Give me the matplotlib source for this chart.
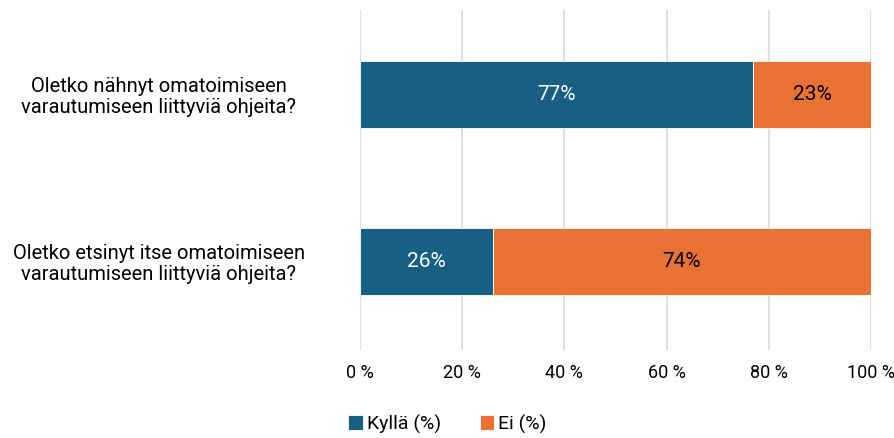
import matplotlib.pyplot as plt
from matplotlib.ticker import FuncFormatter

plt.rcParams['font.family'] = ['Roboto', 'DejaVu Sans']

questions = [
    "Oletko nähnyt omatoimiseen\nvarautumiseen liittyviä ohjeita?",
    "Oletko etsinyt itse omatoimiseen\nvarautumiseen liittyviä ohjeita?",
]
kylla = [77, 26]
ei = [23, 74]
series_names = ["Kyllä (%)", "Ei (%)"]

blue = "#176083"
orange = "#EA7134"

fig = plt.figure(figsize=(8.95, 4.38), dpi=100)
ax = fig.add_axes([360 / 895, 88 / 438, 511 / 895, 340 / 438])

ypos = [0, 1]
b1 = ax.barh(ypos, kylla, height=0.4, color=blue, edgecolor="white", linewidth=0.6, label=series_names[0])
b2 = ax.barh(ypos, ei, left=kylla, height=0.4, color=orange, edgecolor="white", linewidth=0.6, label=series_names[1])

ax.bar_label(b1, labels=[f"{v}%" for v in kylla], label_type="center", color="white", fontsize=15)
ax.bar_label(b2, labels=[f"{v}%" for v in ei], label_type="center", color="black", fontsize=15)

ax.set_xlim(0, 100)
ax.set_ylim(1.53, -0.506)
ax.set_xticks(range(0, 101, 20))
ax.xaxis.set_major_formatter(FuncFormatter(lambda x, p: f"{int(x)} %"))
ax.set_yticks(ypos)
ax.set_yticklabels(questions, fontsize=14.5)
for lab in ax.get_yticklabels():
    lab.set_ha("center")
    lab.set_multialignment("center")
    lab.set_linespacing(1.1)
ax.tick_params(axis="y", length=0, pad=145)
ax.tick_params(axis="x", length=0, pad=10, labelsize=13)

ax.grid(axis="x", color="#d9d9d9", linewidth=1.2)
ax.set_axisbelow(True)
for s in ax.spines.values():
    s.set_visible(False)

fig.legend(loc="lower center", bbox_to_anchor=(0.5, -0.03), ncol=2, frameon=False,
           fontsize=14, handlelength=0.75, handleheight=0.75, handletextpad=0.2, columnspacing=2.0)

fig.savefig("out.png", dpi=100)
